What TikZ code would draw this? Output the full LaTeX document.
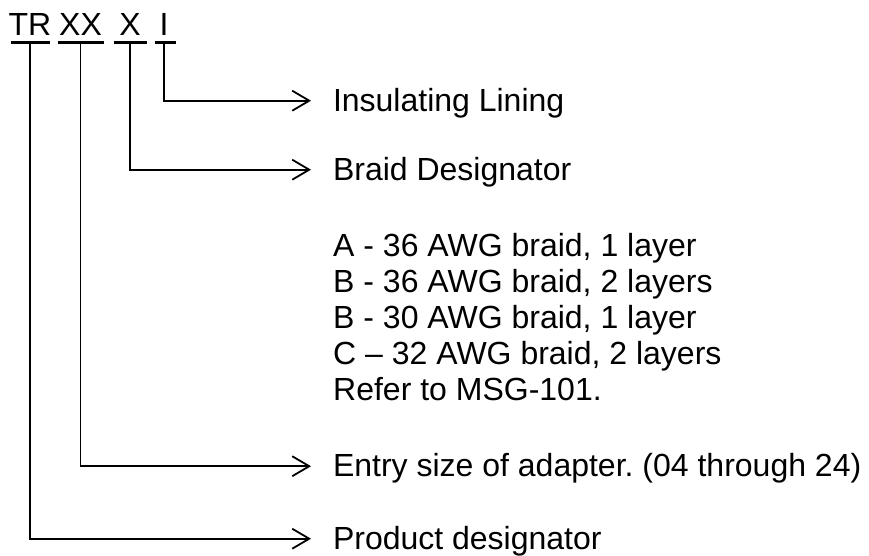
\documentclass[tikz,border=0pt]{standalone}
\usepackage{fontspec}
\setmainfont{Liberation Sans}
\usetikzlibrary{arrows.meta}
\frenchspacing

\begin{document}
\begin{tikzpicture}[x=1pt, y=-1pt,
    code/.style={inner sep=0pt, anchor=base, font=\fontsize{32}{36}\selectfont},
    lbl/.style={inner sep=0pt, outer xsep=22pt, text height=20.6pt, text depth=0pt, anchor=base west, font=\fontsize{32}{36}\selectfont},
    uline/.style={line width=3pt},
    lead/.style={line width=1.8pt, -{Straight Barb[length=17pt,width=20pt]}}]
            \useasboundingbox (0,0) rectangle (869,555);

            % part number
            \node[code] (tr) at (30,35) {TR};
            \node[code] (size) at (80.5,35) {XX};
            \node[code] (braid) at (130,35) {X};
            \node[code] (lining) at (164,35) {I};

            \draw[uline] (11,42) -- (50,42);
            \draw[uline] (58,42) -- (104,42);
            \draw[uline] (114,42) -- (147,42);
            \draw[uline] (155,42) -- (176,42);

            \coordinate (tr-ul) at (30,42);
            \coordinate (size-ul) at (80.5,42);
            \coordinate (braid-ul) at (130,42);
            \coordinate (lining-ul) at (164,42);

            % descriptions
            \node[lbl] (lining-lbl) at (311,111) {Insulating Lining};
            \node[lbl] (braid-lbl) at (311,180) {Braid Designator};
            \node[inner sep=0pt, anchor=north west, align=left, font=\fontsize{32}{36}\selectfont] (braid-list) at (333,232.7) {A - 36 AWG braid, 1 layer\\B - 36 AWG braid, 2 layers\\B - 30 AWG braid, 1 layer\\C – 32 AWG braid, 2 layers\\Refer to MSG-101.};
            \node[lbl] (size-lbl) at (311,476.5) {Entry size of adapter. (04 through 24)};
            \node[lbl] (tr-lbl) at (311,549) {Product designator};

            \draw[lead] (lining-ul) |- (lining-lbl.west);
            \draw[lead] (braid-ul) |- (braid-lbl.west);
            \draw[lead] (size-ul) |- (size-lbl.west);
            \draw[lead] (tr-ul) |- (tr-lbl.west);
        \end{tikzpicture}
\end{document}
